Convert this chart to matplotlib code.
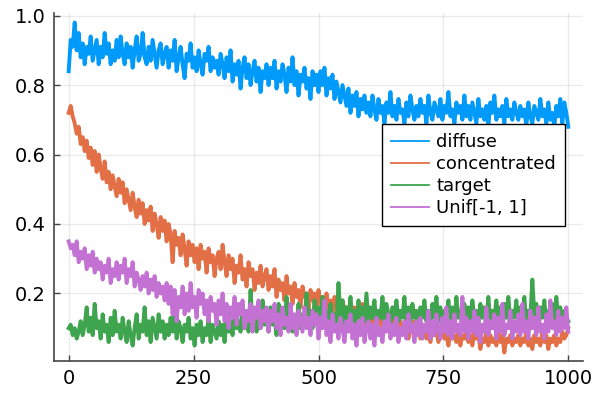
import numpy as np
import matplotlib
matplotlib.use("Agg")
import matplotlib.pyplot as plt

# x positions (every 4 iterations)
steps = list(range(0, 1001, 4))

diffuse = [
    0.84, 0.93, 0.91, 0.98, 0.90, 0.95, 0.88, 0.92, 0.86, 0.91, 0.89, 0.94, 0.87, 0.90, 0.93, 0.86, 0.91, 0.88, 0.95, 0.89, 0.92, 0.86, 0.90, 0.87, 0.93,
    0.88, 0.94, 0.89, 0.86, 0.92, 0.88, 0.91, 0.85, 0.90, 0.94, 0.87, 0.89, 0.95, 0.88, 0.86, 0.91, 0.87, 0.93, 0.89, 0.85, 0.90, 0.92, 0.86, 0.89, 0.91,
    0.85, 0.90, 0.87, 0.93, 0.84, 0.88, 0.91, 0.86, 0.82, 0.89, 0.87, 0.92, 0.85, 0.88, 0.84, 0.90, 0.86, 0.83, 0.89, 0.87, 0.91, 0.84, 0.88, 0.85, 0.87,
    0.83, 0.89, 0.86, 0.82, 0.88, 0.84, 0.90, 0.81, 0.86, 0.83, 0.87, 0.79, 0.85, 0.88, 0.82, 0.86, 0.80, 0.84, 0.87, 0.81, 0.85, 0.78, 0.84, 0.82, 0.86,
    0.80, 0.85, 0.82, 0.87, 0.79, 0.84, 0.81, 0.86, 0.83, 0.78, 0.85, 0.81, 0.88, 0.80, 0.84, 0.77, 0.83, 0.81, 0.85, 0.79, 0.82, 0.76, 0.84, 0.80, 0.83,
    0.78, 0.84, 0.80, 0.85, 0.77, 0.82, 0.79, 0.83, 0.76, 0.81, 0.78, 0.75, 0.80, 0.77, 0.74, 0.79, 0.72, 0.77, 0.74, 0.78, 0.71, 0.76, 0.73, 0.77, 0.72,
    0.75, 0.71, 0.77, 0.73, 0.70, 0.76, 0.72, 0.74, 0.69, 0.75, 0.72, 0.78, 0.71, 0.74, 0.70, 0.76, 0.72, 0.73, 0.69, 0.75, 0.71, 0.77, 0.73, 0.70, 0.74,
    0.71, 0.76, 0.72, 0.74, 0.69, 0.77, 0.72, 0.70, 0.75, 0.73, 0.71, 0.76, 0.70, 0.74, 0.72, 0.78, 0.71, 0.73, 0.69, 0.75, 0.72, 0.74, 0.70, 0.77, 0.71,
    0.74, 0.70, 0.75, 0.72, 0.69, 0.76, 0.71, 0.73, 0.70, 0.74, 0.68, 0.75, 0.72, 0.77, 0.70, 0.73, 0.71, 0.74, 0.69, 0.76, 0.71, 0.73, 0.70, 0.75, 0.72,
    0.70, 0.74, 0.71, 0.73, 0.68, 0.75, 0.71, 0.69, 0.74, 0.72, 0.70, 0.76, 0.71, 0.73, 0.69, 0.75, 0.70, 0.72, 0.68, 0.74, 0.71, 0.76, 0.69, 0.75, 0.72,
    0.68,
]
concentrated = [
    0.72, 0.74, 0.71, 0.69, 0.66, 0.68, 0.63, 0.65, 0.61, 0.64, 0.59, 0.62, 0.57, 0.61, 0.55, 0.60, 0.56, 0.53, 0.58, 0.52, 0.55, 0.50, 0.54, 0.51, 0.48,
    0.53, 0.49, 0.52, 0.46, 0.50, 0.47, 0.44, 0.49, 0.45, 0.42, 0.47, 0.43, 0.46, 0.40, 0.44, 0.41, 0.45, 0.38, 0.43, 0.40, 0.36, 0.42, 0.38, 0.41, 0.35,
    0.40, 0.37, 0.29, 0.38, 0.34, 0.36, 0.31, 0.37, 0.33, 0.28, 0.35, 0.31, 0.34, 0.29, 0.33, 0.27, 0.34, 0.30, 0.32, 0.26, 0.33, 0.29, 0.31, 0.25, 0.30,
    0.32, 0.27, 0.34, 0.29, 0.25, 0.31, 0.27, 0.30, 0.23, 0.28, 0.26, 0.31, 0.24, 0.27, 0.22, 0.29, 0.25, 0.27, 0.21, 0.26, 0.23, 0.28, 0.22, 0.25, 0.27,
    0.21, 0.25, 0.22, 0.27, 0.19, 0.24, 0.21, 0.23, 0.18, 0.25, 0.20, 0.22, 0.17, 0.23, 0.19, 0.21, 0.16, 0.22, 0.19, 0.20, 0.15, 0.21, 0.18, 0.20, 0.16,
    0.21, 0.17, 0.19, 0.15, 0.20, 0.16, 0.18, 0.14, 0.19, 0.16, 0.17, 0.13, 0.18, 0.15, 0.16, 0.12, 0.17, 0.14, 0.16, 0.12, 0.15, 0.13, 0.17, 0.11, 0.14,
    0.12, 0.15, 0.11, 0.14, 0.10, 0.13, 0.12, 0.09, 0.14, 0.11, 0.12, 0.09, 0.13, 0.10, 0.11, 0.08, 0.12, 0.10, 0.09, 0.11, 0.07, 0.10, 0.09, 0.12, 0.08,
    0.10, 0.07, 0.09, 0.11, 0.07, 0.09, 0.06, 0.10, 0.08, 0.09, 0.06, 0.08, 0.10, 0.07, 0.08, 0.05, 0.09, 0.07, 0.08, 0.06, 0.09, 0.05, 0.08, 0.07, 0.09,
    0.06, 0.08, 0.05, 0.09, 0.07, 0.08, 0.04, 0.07, 0.06, 0.09, 0.05, 0.08, 0.06, 0.07, 0.05, 0.09, 0.06, 0.08, 0.03, 0.07, 0.06, 0.08, 0.05, 0.07, 0.06,
    0.08, 0.05, 0.07, 0.06, 0.09, 0.05, 0.07, 0.04, 0.08, 0.06, 0.07, 0.05, 0.09, 0.06, 0.08, 0.04, 0.07, 0.06, 0.08, 0.05, 0.07, 0.06, 0.09, 0.07, 0.08,
    0.10,
]
target = [
    0.10, 0.11, 0.08, 0.10, 0.07, 0.09, 0.12, 0.08, 0.11, 0.16, 0.09, 0.13, 0.08, 0.17, 0.10, 0.12, 0.07, 0.14, 0.09, 0.11, 0.06, 0.13, 0.08, 0.15, 0.09,
    0.11, 0.07, 0.13, 0.09, 0.06, 0.12, 0.08, 0.05, 0.10, 0.14, 0.07, 0.11, 0.09, 0.16, 0.08, 0.12, 0.06, 0.13, 0.10, 0.07, 0.14, 0.09, 0.12, 0.07, 0.11,
    0.08, 0.13, 0.09, 0.15, 0.07, 0.12, 0.10, 0.06, 0.11, 0.09, 0.13, 0.07, 0.10, 0.05, 0.11, 0.08, 0.12, 0.06, 0.10, 0.08, 0.13, 0.06, 0.11, 0.09, 0.07,
    0.12, 0.08, 0.11, 0.06, 0.13, 0.09, 0.12, 0.08, 0.14, 0.10, 0.12, 0.09, 0.17, 0.10, 0.13, 0.09, 0.21, 0.11, 0.15, 0.09, 0.13, 0.10, 0.18, 0.11, 0.14,
    0.09, 0.16, 0.11, 0.13, 0.08, 0.17, 0.12, 0.14, 0.10, 0.19, 0.11, 0.15, 0.09, 0.13, 0.11, 0.17, 0.10, 0.14, 0.12, 0.20, 0.11, 0.15, 0.10, 0.18, 0.12,
    0.16, 0.11, 0.19, 0.13, 0.15, 0.12, 0.17, 0.10, 0.14, 0.12, 0.23, 0.13, 0.18, 0.11, 0.16, 0.13, 0.19, 0.12, 0.15, 0.11, 0.18, 0.13, 0.16, 0.12, 0.20,
    0.12, 0.16, 0.13, 0.18, 0.11, 0.15, 0.13, 0.19, 0.12, 0.17, 0.14, 0.11, 0.16, 0.13, 0.18, 0.12, 0.15, 0.13, 0.19, 0.11, 0.16, 0.12, 0.17, 0.13, 0.15,
    0.10, 0.16, 0.13, 0.18, 0.12, 0.15, 0.11, 0.17, 0.13, 0.19, 0.12, 0.16, 0.11, 0.15, 0.13, 0.18, 0.12, 0.16, 0.10, 0.19, 0.13, 0.15, 0.12, 0.17, 0.11,
    0.16, 0.12, 0.18, 0.13, 0.15, 0.11, 0.17, 0.13, 0.16, 0.12, 0.19, 0.11, 0.15, 0.13, 0.18, 0.12, 0.16, 0.10, 0.17, 0.13, 0.19, 0.12, 0.15, 0.13, 0.18,
    0.12, 0.16, 0.13, 0.19, 0.11, 0.15, 0.13, 0.24, 0.14, 0.17, 0.12, 0.16, 0.13, 0.18, 0.11, 0.15, 0.13, 0.17, 0.12, 0.19, 0.13, 0.16, 0.11, 0.15, 0.13,
    0.12,
]
unif = [
    0.35, 0.33, 0.34, 0.31, 0.35, 0.29, 0.32, 0.30, 0.33, 0.27, 0.31, 0.28, 0.32, 0.26, 0.30, 0.27, 0.29, 0.24, 0.28, 0.26, 0.30, 0.23, 0.27, 0.25, 0.29,
    0.24, 0.28, 0.26, 0.30, 0.23, 0.27, 0.25, 0.29, 0.22, 0.26, 0.24, 0.21, 0.25, 0.22, 0.26, 0.20, 0.24, 0.21, 0.25, 0.19, 0.23, 0.20, 0.22, 0.18, 0.23,
    0.17, 0.22, 0.14, 0.21, 0.12, 0.19, 0.16, 0.22, 0.14, 0.20, 0.15, 0.23, 0.16, 0.19, 0.13, 0.21, 0.17, 0.20, 0.14, 0.18, 0.12, 0.19, 0.15, 0.17, 0.11,
    0.18, 0.14, 0.20, 0.12, 0.17, 0.10, 0.16, 0.13, 0.19, 0.11, 0.17, 0.14, 0.18, 0.10, 0.15, 0.12, 0.17, 0.09, 0.16, 0.13, 0.18, 0.10, 0.15, 0.12, 0.16,
    0.09, 0.15, 0.12, 0.17, 0.10, 0.14, 0.08, 0.16, 0.11, 0.13, 0.09, 0.17, 0.10, 0.14, 0.08, 0.15, 0.12, 0.09, 0.16, 0.10, 0.13, 0.08, 0.15, 0.11, 0.14,
    0.07, 0.13, 0.10, 0.18, 0.08, 0.12, 0.06, 0.14, 0.09, 0.11, 0.07, 0.13, 0.10, 0.06, 0.12, 0.09, 0.14, 0.07, 0.11, 0.05, 0.12, 0.08, 0.13, 0.06, 0.10,
    0.12, 0.07, 0.11, 0.05, 0.13, 0.08, 0.10, 0.06, 0.12, 0.09, 0.14, 0.07, 0.11, 0.08, 0.13, 0.06, 0.10, 0.08, 0.12, 0.07, 0.14, 0.09, 0.11, 0.06, 0.12,
    0.08, 0.13, 0.07, 0.11, 0.09, 0.15, 0.07, 0.12, 0.08, 0.14, 0.10, 0.07, 0.13, 0.09, 0.16, 0.08, 0.12, 0.07, 0.14, 0.09, 0.11, 0.08, 0.19, 0.09, 0.13,
    0.07, 0.12, 0.09, 0.15, 0.08, 0.13, 0.06, 0.11, 0.09, 0.16, 0.08, 0.12, 0.10, 0.14, 0.07, 0.13, 0.09, 0.17, 0.08, 0.11, 0.10, 0.15, 0.07, 0.12, 0.09,
    0.14, 0.08, 0.17, 0.09, 0.12, 0.07, 0.15, 0.10, 0.13, 0.08, 0.16, 0.09, 0.11, 0.07, 0.14, 0.09, 0.18, 0.10, 0.12, 0.08, 0.15, 0.09, 0.13, 0.10, 0.16,
    0.09,
]

labels = ["diffuse", "concentrated", "target", "Unif[-1, 1]"]
colors = ["#009AFA", "#E36F47", "#3EA44E", "#C371D2"]

fig = plt.figure(figsize=(5.95, 3.97), dpi=100)
ax = fig.add_axes([53.7 / 595, 36 / 397, 529.6 / 595, 348.5 / 397])

for series, lab, col in zip([diffuse, concentrated, target, unif], labels, colors):
    ax.plot(steps, series, color=col, linewidth=2.8, label=lab)

ax.set_xlim(-30, 1030)
ax.set_ylim(0.0055, 1.009)
ax.set_xticks([0, 250, 500, 750, 1000])
ax.set_yticks([0.2, 0.4, 0.6, 0.8, 1.0])
ax.set_yticklabels(["0.2", "0.4", "0.6", "0.8", "1.0"])
ax.grid(True, color="black", alpha=0.08, linewidth=1)
ax.set_axisbelow(True)
for s in ["top", "right"]:
    ax.spines[s].set_visible(False)
for s in ["left", "bottom"]:
    ax.spines[s].set_color("#444444")
    ax.spines[s].set_linewidth(1.2)
ax.tick_params(direction="in", length=4, width=1, colors="#444444", labelcolor="black",
               labelsize=14, pad=6)

leg = ax.legend(loc="upper left", bbox_to_anchor=(0.620, 0.680), borderaxespad=0,
                fontsize=13, fancybox=False, edgecolor="black", framealpha=1,
                handlelength=2.1, handletextpad=0.4, labelspacing=0.22, borderpad=0.5)
leg.get_frame().set_linewidth(1)
for h in leg.get_lines():
    h.set_linewidth(1.3)

fig.savefig("out.png", dpi=100)
